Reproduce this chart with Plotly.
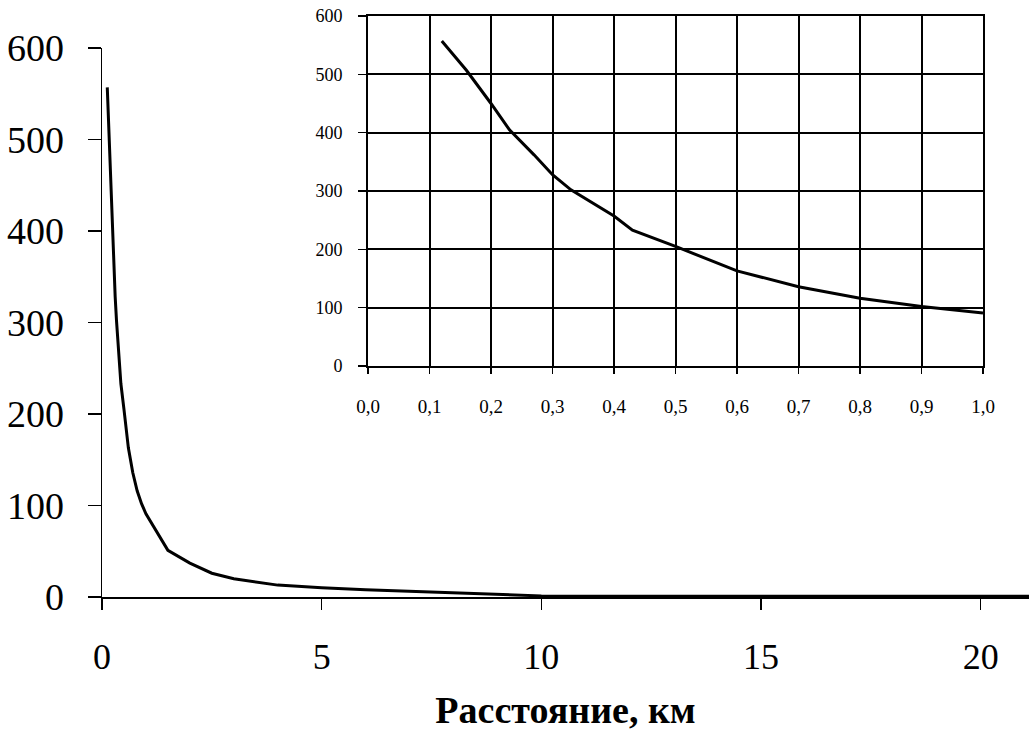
import plotly.graph_objects as go

# Data
distance_km = [0.12, 0.16, 0.20, 0.23, 0.27, 0.30, 0.33, 0.36, 0.40, 0.43,
               0.50, 0.60, 0.70, 0.80, 0.90, 1.00, 1.50, 2.00, 2.50, 3.00,
               4.00, 5.00, 6.00, 7.50, 9.00, 10.0, 12.0, 15.0, 18.0, 21.2]
values = [557, 507, 450, 405, 362, 328, 302, 283, 257, 233,
          205, 163, 136, 116, 102, 91, 51, 37, 26, 20,
          13, 10, 8, 5.5, 3, 1.2, 0.8, 0.8, 0.8, 0.8]
n_inset = 16  # points with distance <= 1 km shown in the inset

main_xticks = [0, 5, 10, 15, 20]
main_yticks = [0, 100, 200, 300, 400, 500, 600]
inset_xticks = [0.0, 0.1, 0.2, 0.3, 0.4, 0.5, 0.6, 0.7, 0.8, 0.9, 1.0]
inset_xlabels = ["0,0", "0,1", "0,2", "0,3", "0,4", "0,5", "0,6", "0,7", "0,8", "0,9", "1,0"]
inset_yticks = [0, 100, 200, 300, 400, 500, 600]
x_title = "Расстояние, км"

W, H = 1029, 748
L, R, T, B = 102, 0, 16, 151
pw, ph = W - L - R, H - T - B
main_top = 48
inset_l, inset_r, inset_t, inset_b = 368, 983, 16, 366

FONT = "Liberation Serif, Times New Roman, serif"

fig = go.Figure()
fig.add_trace(go.Scatter(x=distance_km, y=values, mode="lines",
                         line=dict(color="black", width=3),
                         xaxis="x", yaxis="y", showlegend=False, hoverinfo="skip"))
fig.add_trace(go.Scatter(x=distance_km[:n_inset], y=values[:n_inset], mode="lines",
                         line=dict(color="black", width=3),
                         xaxis="x2", yaxis="y2", showlegend=False, hoverinfo="skip"))

fig.update_layout(
    width=W, height=H, autosize=False,
    margin=dict(l=L, r=R, t=T, b=B, pad=0, autoexpand=False),
    paper_bgcolor="white", plot_bgcolor="white",
    font=dict(family=FONT, color="black"),
    xaxis=dict(domain=[0, 1], range=[0, 21.1], tickvals=main_xticks,
               showgrid=False, zeroline=False, showline=True, linecolor="black",
               linewidth=2, ticks="outside", ticklen=11, tickwidth=1.5, tickcolor="black",
               tickfont=dict(size=36, family=FONT), ticklabelstandoff=16,
               title=dict(text="<b>" + x_title + "</b>", font=dict(size=38, family=FONT),
                          standoff=20),
               automargin=False, anchor="y"),
    yaxis=dict(domain=[0, (H - B - main_top) / ph], range=[0, 600], tickvals=main_yticks,
               showgrid=False, zeroline=False, showline=True, linecolor="black",
               linewidth=1.5, ticks="outside", ticklen=13, tickwidth=1.5, tickcolor="black",
               tickfont=dict(size=38, family=FONT), ticklabelstandoff=16,
               automargin=False, anchor="x"),
    xaxis2=dict(domain=[(inset_l - L) / pw, (inset_r - L) / pw], range=[0, 1],
                tickvals=inset_xticks, ticktext=inset_xlabels,
                showgrid=True, gridcolor="black", gridwidth=2,
                zeroline=False, showline=True, linecolor="black", linewidth=2, mirror=True,
                ticks="outside", ticklen=6, tickwidth=1.5, tickcolor="black",
                tickfont=dict(size=19, family=FONT), ticklabelstandoff=16,
                automargin=False, anchor="y2"),
    yaxis2=dict(domain=[(H - B - inset_b) / ph, (H - B - inset_t) / ph], range=[0, 600],
                tickvals=inset_yticks,
                showgrid=True, gridcolor="black", gridwidth=2,
                zeroline=False, showline=True, linecolor="black", linewidth=2, mirror=True,
                ticks="outside", ticklen=8, tickwidth=1.5, tickcolor="black",
                tickfont=dict(size=18, family=FONT), ticklabelstandoff=12,
                automargin=False, anchor="x2"),
)

fig.write_html("out.html",
               config={"displayModeBar": False, "staticPlot": True},
               post_script="document.body.style.margin='0';"
                           "document.body.style.overflow='hidden';")
